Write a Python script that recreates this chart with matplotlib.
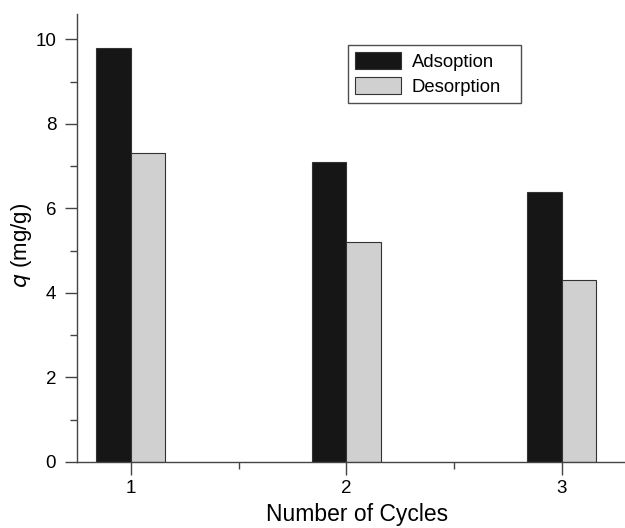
import matplotlib.pyplot as plt
import numpy as np

plt.rcParams['font.family'] = ['Liberation Sans', 'DejaVu Sans']

# Data
cycles = [1, 2, 3]
adsorption = [9.8, 7.1, 6.4]
desorption = [7.3, 5.2, 4.3]
labels = ['Adsoption', 'Desorption']

fig = plt.figure(figsize=(6.25, 5.28), dpi=100)
ax = fig.add_axes([77 / 625, (528 - 462) / 528, (625 - 77) / 625, (462 - 14) / 528])

w = 0.16
x = np.array(cycles, dtype=float)
ax.bar(x - w / 2, adsorption, w, color='#161616', edgecolor='#333333', linewidth=0.8, label=labels[0])
ax.bar(x + w / 2, desorption, w, color='#d0d0d0', edgecolor='#333333', linewidth=0.8, label=labels[1])

ax.set_xlim(0.75, 3.293)
ax.set_ylim(0, 10.6)
ax.set_xticks(cycles)
ax.set_xticks([1.5, 2.5], minor=True)
ax.set_yticks([0, 2, 4, 6, 8, 10])
ax.set_yticks([1, 3, 5, 7, 9], minor=True)

for s in ['top', 'right']:
    ax.spines[s].set_visible(False)
for s in ['left', 'bottom']:
    ax.spines[s].set_color('#444444')
    ax.spines[s].set_linewidth(1.0)

ax.tick_params(which='major', direction='out', length=9, width=1, color='#444444', labelsize=13.5)
ax.tick_params(axis='x', which='major', pad=4)
ax.tick_params(axis='y', which='major', pad=6)
ax.tick_params(which='minor', direction='out', length=5, width=1, color='#444444')

ax.set_xlabel('Number of Cycles', fontsize=16.5, va='center')
ax.xaxis.set_label_coords((357.5 - 77) / 548, (528 - 515 - 66) / 448)
ax.set_ylabel(r'$q$ (mg/g)', fontsize=16, va='center')
ax.yaxis.set_label_coords((22 - 77) / 548, (528 - 245 - 66) / 448)

# legend box: pixels 348..521 wide, 45..102 tall in the reference
leg = ax.legend(loc='upper left', mode='expand',
                bbox_to_anchor=((348 - 77) / 548, (462 - 102) / 448, 173 / 548, 57 / 448),
                borderaxespad=0, fontsize=13.3, frameon=True, fancybox=False, borderpad=0.4,
                handlelength=2.45, handleheight=1.0, labelspacing=0.35, handletextpad=0.6)
leg.get_frame().set_edgecolor('#222222')
leg.get_frame().set_linewidth(1.0)

fig.savefig('out.png', dpi=100)
